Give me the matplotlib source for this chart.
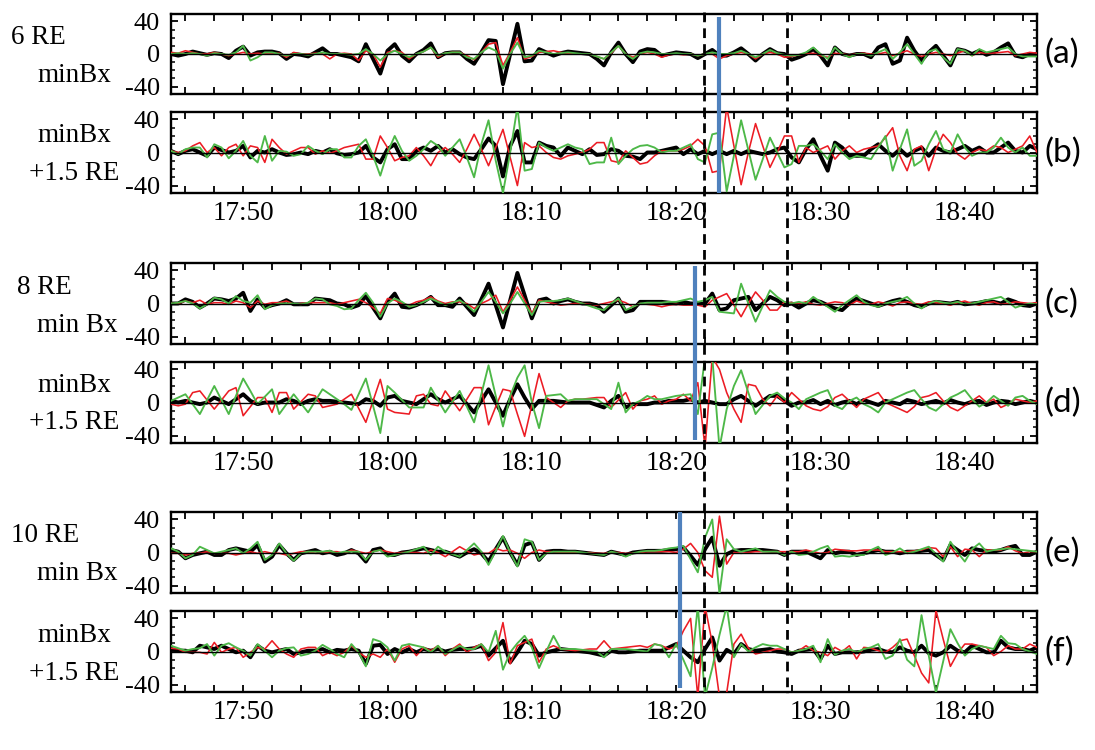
import matplotlib
matplotlib.use('Agg')
import matplotlib.pyplot as plt
import numpy as np
from matplotlib.ticker import MultipleLocator, FixedLocator, FuncFormatter
from matplotlib.transforms import blended_transform_factory
from matplotlib.lines import Line2D

# ---------------- data (minutes after 17:00, 30 s sampling from 17:45) ----------------
T_START = 45.0
T_STEP = 0.5

a_black = [0,-2,0,3,1,-1,1,0,-5,4,
 9,-2,2,3,3,1,-6,0,-1,-3,
 2,7,0,0,-2,-4,-9,12,-6,-24,
 4,12,-2,-9,0,5,13,-4,1,2,
 2,-6,-12,2,17,16,-37,0,37,-9,
 -8,6,2,-2,1,3,2,1,0,-6,
 -14,2,14,0,-10,3,6,5,-2,0,
 2,1,0,-5,0,5,-2,-2,2,7,
 0,-8,0,6,1,0,-7,-4,0,6,
 -2,-14,8,0,-2,0,0,-4,8,12,
 -12,-8,20,4,-8,2,10,-2,-14,6,
 4,0,4,-1,2,8,13,-2,-4,0,
 0]
a_red = [2,1,4,2,0,0,2,0,-2,0,
 2,0,1,0,0,1,-4,2,0,0,
 1,0,-6,0,1,0,-8,4,0,-16,
 2,4,2,-6,0,3,8,-4,1,2,
 2,-2,-7,2,12,14,-14,2,20,-6,
 -3,2,3,4,2,1,0,0,0,-3,
 -6,1,10,0,-4,0,2,0,-4,-1,
 0,-1,0,-2,0,0,-6,-2,0,2,
 0,-6,0,2,0,-4,-3,-1,0,1,
 -2,-4,1,0,-1,0,1,0,0,2,
 -2,1,4,0,-3,0,2,0,-2,1,
 4,-2,2,0,1,2,3,-2,0,2,
 1]
a_green = [0,1,0,1,0,-2,1,0,-1,2,
 10,-8,-4,2,2,0,-2,0,0,-1,
 0,2,0,0,0,-1,0,6,0,-8,
 0,4,0,-4,0,3,8,-2,1,2,
 2,-4,-6,2,8,4,-18,0,14,-4,
 -2,4,2,0,1,2,1,0,0,-3,
 -6,2,10,0,-6,1,3,2,0,0,
 1,0,0,-2,0,2,0,0,1,4,
 0,-4,0,5,1,-1,-2,-1,2,8,
 0,-6,8,0,-4,0,0,-2,2,6,
 -6,2,12,0,-12,3,6,-4,-12,6,
 4,-2,6,2,4,6,8,0,-3,-3,
 -3]

b_black = [2,-2,2,4,0,-4,6,3,0,2,
 8,-6,2,0,4,0,-3,-2,0,-2,
 2,0,4,-1,-3,-2,0,8,-6,-12,
 4,10,-8,-8,2,6,2,8,0,4,
 -2,-6,-8,4,17,8,-29,8,26,-12,
 -12,12,8,6,-4,6,2,-2,4,-3,
 -2,4,2,-4,-5,-8,0,0,2,4,
 6,-2,4,-2,2,-2,2,-2,2,-2,
 2,0,-2,0,4,6,-6,-12,4,16,
 -4,-22,12,6,-4,-4,-4,4,10,2,
 -4,4,-4,2,6,-4,6,2,0,4,
 8,2,6,0,0,6,12,2,0,8,
 4]
b_red = [2,0,2,8,12,0,6,-4,6,10,
 -4,8,6,-12,16,6,-2,2,6,6,
 -2,2,-1,2,6,8,10,-8,-8,20,
 6,-10,-6,-4,6,-4,-16,0,6,-2,
 -12,4,22,4,-16,6,28,-6,-40,12,
 6,8,0,-6,-8,-4,-2,0,4,12,
 12,-10,-12,2,-6,-14,-12,-4,2,2,
 2,4,8,16,8,-24,-22,55,8,-39,
 0,35,8,-18,0,20,20,-12,6,0,
 4,8,-8,2,8,0,4,6,8,18,
 30,-4,-22,4,8,-22,4,22,12,-2,
 -8,0,4,2,8,6,0,4,8,20,
 0]
b_green = [2,-2,4,6,6,-6,10,6,-7,2,
 14,-4,-12,20,-10,2,1,-4,-2,8,
 2,-2,4,4,-6,-6,8,16,-4,-28,
 0,20,2,-10,-4,4,14,8,-4,6,
 16,-6,-30,10,39,-10,-49,0,55,-22,
 -20,12,6,2,6,10,6,4,-14,-12,
 -12,18,-14,-4,4,8,9,6,0,2,
 2,6,10,-8,-12,22,24,-47,-4,39,
 3,-33,-8,18,0,-18,-14,8,8,10,
 2,-8,10,0,-8,-4,-6,-8,6,20,
 -22,4,28,-16,-10,10,26,4,0,22,
 6,-4,0,0,6,18,6,0,6,-4,
 -4]

c_black = [0,0,5,2,-5,0,6,5,3,6,
 13,-9,5,-5,-2,0,4,-1,-1,-1,
 6,5,4,0,-1,-5,-2,9,-5,-18,
 2,12,-4,-5,-2,2,8,-2,-2,-4,
 6,-4,-14,5,24,-2,-29,4,37,10,
 -18,4,6,0,3,5,2,0,0,-2,
 -10,-2,6,-10,-8,2,2,2,2,1,
 0,2,0,0,0,12,-8,-6,4,6,
 8,-8,0,8,4,-2,0,-5,0,4,
 2,-2,-6,-8,0,6,3,0,-3,0,
 3,5,2,-2,-4,0,2,1,0,2,
 -1,0,1,3,2,0,5,2,-2,-3,
 0]
c_red = [0,0,3,1,4,-1,1,1,-1,3,
 1,-5,3,-1,1,1,3,-1,0,1,
 1,1,1,-1,1,3,5,1,-5,-12,
 6,4,0,-2,2,4,8,3,0,2,
 2,0,-6,0,4,10,-10,4,20,4,
 -12,4,2,0,-2,-1,0,0,-1,-2,
 0,2,4,1,-4,0,-1,-2,-4,-2,
 -1,-2,-2,-2,-4,4,8,12,-2,-16,
 0,14,4,-8,-8,2,1,0,2,-1,
 -2,0,2,1,-2,3,0,-1,2,0,
 -3,1,2,0,-1,2,1,0,-2,1,
 3,0,-2,1,2,-1,0,2,1,0,
 1]
c_green = [0,1,3,0,-6,-1,7,5,0,9,
 3,1,10,-7,-2,0,0,0,-1,1,
 6,5,-1,-3,-7,-6,4,13,1,-16,
 0,6,2,-4,-2,2,6,2,-2,1,
 4,-2,-10,2,14,2,-12,0,14,0,
 -14,2,3,3,4,6,3,0,-3,-6,
 -8,0,6,-8,-4,0,1,1,1,2,
 2,4,6,2,4,8,-10,-11,-12,24,
 0,-22,-3,16,8,2,0,2,0,8,
 2,-4,-10,-2,4,10,2,-2,-4,0,
 2,4,8,0,-6,0,3,1,0,2,
 -1,0,2,4,6,8,2,-5,-2,0,
 -1]

d_black = [2,0,2,0,-2,0,6,2,-2,4,
 10,2,-2,0,0,0,4,2,-2,2,
 4,2,2,1,0,-1,-2,4,2,-4,
 6,8,2,0,-2,4,10,4,0,4,
 8,-2,-12,2,16,0,-16,4,22,6,
 -8,2,2,2,1,0,0,0,0,-3,
 -6,2,8,-6,-2,-2,-2,0,0,2,
 2,2,4,0,2,0,-2,-2,4,8,
 2,-4,2,8,8,2,-4,0,0,3,
 -2,2,-3,0,2,-2,3,0,-3,2,
 0,-2,3,1,-2,0,2,-1,3,0,
 -2,1,2,-3,0,2,1,-2,0,2,
 0]
d_red = [-2,-4,-2,12,14,3,-8,3,14,18,
 -16,-5,6,6,-12,12,12,-8,1,10,
 8,-6,-4,-2,4,10,-7,-24,2,28,
 -8,-12,-13,-14,8,10,-2,-4,14,2,
 -10,4,18,18,-27,-5,16,14,-14,-41,
 -3,35,6,0,-6,2,4,4,5,6,
 6,-6,3,12,-8,2,4,8,-2,2,
 4,10,2,24,-55,55,40,12,-8,-24,
 22,20,4,-4,8,0,12,4,-4,-8,
 -10,-5,6,10,2,-6,4,8,12,0,
 -4,-8,-12,-5,6,8,12,2,-6,-10,
 -4,2,8,0,4,-6,-2,4,2,0,
 2]
d_green = [2,6,10,-2,-14,3,20,3,-14,8,
 29,14,-2,7,16,-14,-2,10,-1,-12,
 2,16,10,4,-2,-9,10,29,-4,-37,
 20,12,3,-6,-6,-6,18,3,-12,1,
 14,-5,-24,10,45,8,-29,8,30,45,
 0,-31,8,9,10,2,4,4,4,4,
 -2,-8,24,-12,-2,2,8,4,4,6,
 8,9,10,-14,55,55,-55,-8,20,39,
 12,-14,-3,8,12,5,0,-8,4,8,
 12,15,-4,-8,2,6,-2,-6,-12,0,
 4,8,12,15,4,-6,-10,-2,6,10,
 15,4,-5,0,8,2,-4,6,8,2,
 -2]

e_black = [3,1,-7,-3,-1,1,-3,-3,3,5,
 3,1,9,-11,-5,9,-1,-9,-1,1,
 3,-1,1,-3,-1,3,-1,-11,3,5,
 -3,-3,0,1,3,5,3,1,1,-2,
 -5,0,4,-1,-11,4,18,0,-15,9,
 12,-9,1,2,2,1,1,0,-1,-2,
 -3,1,-1,-3,0,1,2,2,2,3,
 4,6,-4,-15,4,18,-16,-2,2,3,
 3,3,3,2,1,-3,1,1,1,-3,
 -7,3,-1,1,1,-3,-1,1,3,1,
 1,-1,1,1,2,3,-3,-9,9,3,
 -3,5,3,2,1,3,6,8,-3,-3,
 1]
e_red = [-1,-1,-3,-1,-1,1,-1,-1,-1,-3,
 -1,1,-1,1,-1,-1,-3,-1,1,1,
 -1,-1,1,1,-1,3,1,-1,1,3,
 1,-1,0,0,0,-1,3,0,-5,1,
 7,2,-3,-1,-1,5,2,3,-1,-7,
 0,3,1,1,0,0,0,-1,0,-1,
 -1,0,0,-1,-1,0,1,1,1,1,
 0,4,11,0,-22,-30,44,-14,0,-1,
 0,1,1,1,1,1,1,1,3,1,
 -1,0,4,3,2,2,3,3,3,1,
 1,1,1,2,3,6,5,-5,7,-5,
 4,3,-5,3,3,3,7,2,-1,1,
 1]
e_green = [5,1,-7,-3,7,3,-1,1,3,5,
 -1,5,13,-9,-3,11,-1,-10,-1,1,
 1,1,2,-1,1,1,1,-9,1,3,
 -5,-3,-1,1,4,7,-3,7,1,-2,
 -5,3,11,1,-15,2,20,0,-17,16,
 13,-9,-1,1,1,1,1,0,-1,-2,
 -3,1,-1,-5,-1,1,2,2,3,5,
 6,8,-8,-24,18,40,-50,16,4,1,
 3,5,1,1,1,-3,1,-3,-2,1,
 5,8,-5,-4,-5,-3,-3,3,7,-3,
 0,5,-1,1,4,7,-2,-11,13,0,
 -11,4,11,1,3,4,5,4,3,2,
 1]

f_black = [3,1,1,-1,7,5,3,7,3,-1,
 1,-7,7,1,-1,1,3,-3,-1,1,
 1,3,-1,2,1,3,1,-15,7,8,
 -3,3,-1,3,-1,3,1,3,0,2,
 3,3,4,7,-5,4,13,-13,-1,13,
 9,-5,-1,1,3,2,1,0,-1,-3,
 -5,1,-1,-1,0,1,1,1,1,5,
 9,1,-7,-13,3,17,-11,2,-3,9,
 3,1,2,3,0,-1,-3,1,2,3,
 -9,7,-3,-1,-1,-1,0,2,3,0,
 -1,5,1,-1,7,-2,-5,-1,7,1,
 -1,7,3,-1,-1,13,5,3,3,1,
 5]
f_red = [4,3,-1,-1,-1,-3,11,-1,3,5,
 -7,-1,5,3,13,3,-3,-7,3,5,
 5,-5,-1,-5,-1,7,-1,-7,-3,-7,
 3,-13,3,7,-5,5,1,7,-5,3,
 9,-1,5,9,-11,-1,35,-15,7,11,
 15,-13,3,7,3,2,1,2,3,3,
 13,3,4,5,6,7,5,9,7,3,
 6,25,40,-55,55,10,-55,-50,9,21,
 4,-3,-1,1,3,3,-1,1,7,1,
 -1,-5,5,0,7,-9,5,4,1,-1,
 5,13,15,-5,-26,-38,50,15,-18,-2,
 9,9,7,5,-5,0,7,3,3,9,
 5]
f_green = [7,4,1,3,4,9,-5,7,10,5,
 1,-5,9,1,-7,1,4,5,-5,-3,
 1,8,3,-3,-7,9,-1,-18,15,12,
 5,-11,7,9,7,5,-1,7,-3,2,
 7,3,3,9,-1,25,-22,-1,10,19,
 5,-20,0,19,3,3,3,2,1,0,
 -7,3,3,3,2,1,0,9,7,-7,
 9,-10,-30,55,-55,-20,20,55,-7,9,
 0,5,9,7,7,3,-1,1,3,7,
 -13,15,-4,1,3,-1,3,5,9,-9,
 -5,15,-10,-18,44,-5,-50,-12,27,10,
 -5,3,7,5,3,19,10,9,3,0,
 -3]

panel_tags = ['(a)', '(b)', '(c)', '(d)', '(e)', '(f)']
row_labels = [('6 RE', 'minBx'), ('minBx', '+1.5 RE'),
              ('8 RE', 'min Bx'), ('minBx', '+1.5 RE'),
              ('10 RE', 'min Bx'), ('minBx', '+1.5 RE')]
dashed_times = [81.9, 87.7]          # 18:21.9 and 18:27.7
blue_times = [83.0, 81.3, 80.3]      # one per pair of panels
y_major = [-40, 0, 40]

series = [(a_black, a_red, a_green), (b_black, b_red, b_green),
          (c_black, c_red, c_green), (d_black, d_red, d_green),
          (e_black, e_red, e_green), (f_black, f_red, f_green)]

# ---------------- layout ----------------
W, H = 1095, 750
fig = plt.figure(figsize=(W / 100, H / 100), dpi=100)
SERIF = ['Liberation Serif', 'DejaVu Serif']

left_px, right_px = 171, 1037
boxes = [(14, 94), (112, 193), (263, 344), (362, 443), (512, 593), (611, 692)]
label_px = [((11, 37), (37, 75)), ((37, 135), (29, 173)),
            ((17, 287), (37, 325)), ((37, 385), (29, 423)),
            ((11, 535), (37, 573)), ((37, 635), (29, 673))]

RED = '#EC1C24'
GREEN = '#4DB848'
BLUE = '#4F81BD'

def tfmt(m, pos=None):
    m = int(round(m))
    if m % 10 != 0:
        return ''
    return f"{17 + m // 60}:{m % 60:02d}"

axes = []
for k, (top, bot) in enumerate(boxes):
    ax = fig.add_axes([left_px / W, 1 - bot / H, (right_px - left_px) / W, (bot - top) / H])
    axes.append(ax)
    blk, red, grn = series[k]
    for vals, col, lw, z in ((blk, 'black', 2.8, 2), (red, RED, 1.15, 3), (grn, GREEN, 1.35, 4)):
        t = T_START + T_STEP * np.arange(len(vals))
        ax.plot(t, vals, color=col, lw=lw, zorder=z)
    ax.axhline(0, color='black', lw=1.0, zorder=5)
    ax.set_xlim(45, 105)
    ax.set_ylim(-49, 49)
    ax.xaxis.set_major_locator(MultipleLocator(2))
    ax.xaxis.set_major_formatter(FuncFormatter(tfmt))
    ax.yaxis.set_major_locator(FixedLocator(y_major))
    ax.yaxis.set_minor_locator(MultipleLocator(10))
    ax.yaxis.set_major_formatter(FuncFormatter(lambda v, p: f"{int(v)}"))
    for s in ax.spines.values():
        s.set_linewidth(1.7)
    ax.tick_params(axis='x', which='major', direction='in', top=True, bottom=True,
                   length=5, width=1.3, pad=6, labelsize=19.5,
                   labelbottom=(k % 2 == 1))
    ax.tick_params(axis='y', which='major', direction='in', left=True, right=True,
                   length=5, width=1.3, pad=8, labelsize=19)
    ax.tick_params(axis='y', which='minor', direction='in', left=True, right=True,
                   length=3, width=1.1)
    for lab in ax.get_xticklabels() + ax.get_yticklabels():
        lab.set_family(SERIF)
    fig.text(1045 / W, 1 - (top + bot) / 2 / H, panel_tags[k], ha='left', va='center',
             fontsize=24, family=['Lato', 'DejaVu Sans'])
    (x1, y1), (x2, y2) = label_px[k]
    fig.text(x1 / W, 1 - y1 / H, row_labels[k][0], ha='left', va='center',
             fontsize=19.5, family=SERIF)
    fig.text(x2 / W, 1 - y2 / H, row_labels[k][1], ha='left', va='center',
             fontsize=19.5, family=SERIF)

tr = blended_transform_factory(axes[0].transData, fig.transFigure)
for tm in dashed_times:
    fig.add_artist(Line2D([tm, tm], [1 - 12 / H, 1 - 693 / H], transform=tr, color='black',
                          lw=2.0, linestyle=(0, (3.5, 2.2)), zorder=10))

pair_spans = [(17, 193), (266, 440), (512, 688)]
for tm, (y0, y1) in zip(blue_times, pair_spans):
    fig.add_artist(Line2D([tm, tm], [1 - y0 / H, 1 - y1 / H], transform=tr, color=BLUE,
                          lw=3.0, zorder=11, solid_capstyle='butt'))

fig.savefig('out.png', dpi=100)
